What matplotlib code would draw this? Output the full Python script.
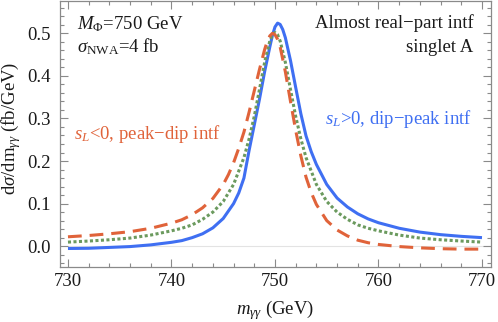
import matplotlib
matplotlib.use("Agg")
import matplotlib.pyplot as plt
from matplotlib.ticker import MultipleLocator, FormatStrFormatter

plt.rcParams['font.family'] = ['Liberation Serif', 'DejaVu Serif']
plt.rcParams['mathtext.fontset'] = 'custom'
plt.rcParams['mathtext.rm'] = 'Liberation Serif'
plt.rcParams['mathtext.it'] = 'Liberation Serif:italic'
plt.rcParams['mathtext.bf'] = 'Liberation Serif:bold'

# ---- data ----
m_green = [730, 732, 734, 736, 738, 740, 741, 742, 743, 744, 745, 746, 747, 747.5, 748, 748.5,
           749, 749.5, 749.75, 750, 750.25, 750.5, 751, 751.5, 752, 752.5, 753, 754, 755, 756,
           757, 758, 759, 760, 762, 764, 766, 768, 770]
nwa_green = [0.0095, 0.012, 0.015, 0.019, 0.026, 0.036, 0.042, 0.050, 0.063, 0.080, 0.105, 0.145,
             0.208, 0.252, 0.305, 0.368, 0.432, 0.482, 0.497, 0.502, 0.497, 0.482, 0.432, 0.368,
             0.305, 0.252, 0.208, 0.145, 0.105, 0.080, 0.063, 0.050, 0.042, 0.036, 0.026, 0.019,
             0.015, 0.012, 0.0095]

m_blue = [730, 732, 734, 736, 738, 740, 741, 742, 743, 744, 745, 746, 746.5, 747, 747.5, 748,
          748.5, 749, 749.5, 749.75, 750, 750.25, 750.5, 750.75, 751, 751.5, 752, 752.5, 753,
          753.5, 754, 755, 756, 757, 758, 759, 760, 762, 764, 766, 768, 770]
dip_peak_blue = [-0.0055, -0.005, -0.003, -0.001, 0.003, 0.009, 0.013, 0.020, 0.029, 0.043,
                 0.065, 0.100, 0.125, 0.160, 0.225, 0.285, 0.345, 0.410, 0.468, 0.495, 0.515,
                 0.524, 0.521, 0.509, 0.490, 0.436, 0.373, 0.311, 0.259, 0.222, 0.192, 0.145,
                 0.113, 0.092, 0.076, 0.064, 0.055, 0.042, 0.033, 0.027, 0.023, 0.020]

m_orange = [730, 732, 734, 736, 738, 740, 741, 742, 743, 744, 745, 745.5, 746, 746.5, 747,
            747.5, 748, 748.5, 749, 749.25, 749.5, 749.75, 750, 750.25, 750.5, 751, 751.5, 752,
            752.5, 753, 753.5, 754, 755, 756, 757, 758, 759, 760, 762, 764, 766, 768, 770]
peak_dip_orange = [0.022, 0.025, 0.029, 0.034, 0.042, 0.054, 0.062, 0.074, 0.090, 0.112, 0.145,
                   0.168, 0.196, 0.230, 0.268, 0.315, 0.365, 0.415, 0.462, 0.481, 0.494, 0.500,
                   0.497, 0.486, 0.468, 0.410, 0.340, 0.272, 0.212, 0.162, 0.126, 0.098, 0.060,
                   0.038, 0.024, 0.014, 0.008, 0.004, -0.001, -0.004, -0.006, -0.007, -0.007]

x_ticks = [730, 740, 750, 760, 770]
y_ticks = [0.0, 0.1, 0.2, 0.3, 0.4, 0.5]

BLUE = '#3f6ff2'
ORANGE = '#e0633a'
GREEN = '#6b9a5e'
FRAME = '#8a8a8a'
TXT = '#1a1a1a'

fig = plt.figure(figsize=(4.98, 3.22), dpi=100)
ax = fig.add_axes([60 / 498, 55 / 322, 431 / 498, 266 / 322])

ax.axhline(0, color='#e3e3e3', lw=0.8, zorder=0)

ax.plot(m_blue, dip_peak_blue, color=BLUE, lw=2.2, solid_capstyle='butt',
        solid_joinstyle='round', zorder=3)
ax.plot(m_green, nwa_green, color=GREEN, lw=2.2, dashes=(1.0, 0.8),
        dash_capstyle='butt', zorder=4)
ax.plot(m_orange, peak_dip_orange, color=ORANGE, lw=2.2, dashes=(4.5, 2.6),
        dash_capstyle='butt', zorder=5)

ax.set_xlim(729.23, 770.87)
ax.set_ylim(-0.049, 0.576)

ax.set_xticks(x_ticks)
ax.set_yticks(y_ticks)
ax.xaxis.set_minor_locator(MultipleLocator(2))
ax.yaxis.set_minor_locator(MultipleLocator(0.02))
ax.yaxis.set_major_formatter(FormatStrFormatter('%.1f'))

for s in ax.spines.values():
    s.set_color(FRAME)
    s.set_linewidth(0.9)

ax.tick_params(which='both', direction='in', top=True, right=True, color=FRAME,
               width=0.8, labelsize=13.5, labelcolor=TXT)
ax.tick_params(which='major', length=5.5)
ax.tick_params(which='minor', length=3)
ax.tick_params(axis='x', pad=4.5)
ax.tick_params(axis='y', pad=7)

ax.set_xlabel(r'$m_{\gamma\gamma}$ (GeV)', fontsize=13.5, color=TXT)
ax.set_ylabel(r'd$\sigma$/dm$_{\gamma\gamma}$ (fb/GeV)', fontsize=13.5, color=TXT)
ax.xaxis.label.set_va('center')
ax.yaxis.label.set_va('center')
ax.xaxis.set_label_coords(0.5, -0.16)
ax.yaxis.set_label_coords(-0.114, 0.52)

fs = 13.5
MINUS = '\u2212'
ax.text(730.87, 0.509, r'$M_\Phi$=750 GeV', fontsize=fs, ha='left', va='baseline', color=TXT)
ax.text(730.87, 0.456, r'$\sigma_{\rm NWA}$=4 fb', fontsize=fs, ha='left', va='baseline',
        color=TXT)
ax.text(769.2, 0.512, 'Almost real' + MINUS + 'part intf', fontsize=fs, ha='right',
        va='baseline', color=TXT)
ax.text(769.2, 0.455, 'singlet A', fontsize=fs, ha='right', va='baseline', color=TXT)
ax.text(730.58, 0.251, r'$s_L$<0, peak' + MINUS + 'dip intf',
        fontsize=fs, ha='left', va='baseline', color=ORANGE)
ax.text(769.0, 0.286, r'$s_L$>0, dip' + MINUS + 'peak intf',
        fontsize=fs, ha='right', va='baseline', color=BLUE)

fig.savefig('out.png', dpi=100)
